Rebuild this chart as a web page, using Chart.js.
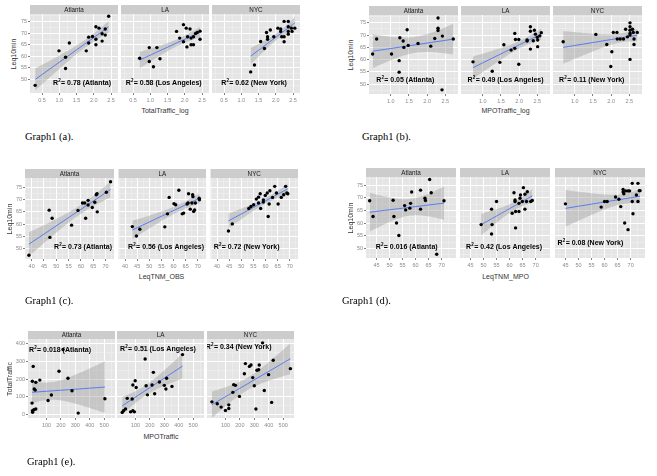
<!DOCTYPE html>
<html>
<head>
<meta charset="utf-8">
<script src="https://cdn.jsdelivr.net/npm/chart.js@4.4.1/dist/chart.umd.min.js"></script>
<style>
body { margin: 0; background: #fff; }
#page { position: relative; width: 657px; height: 476px; overflow: hidden; font-family: "Liberation Sans", Arial, sans-serif; }
#page canvas { position: absolute; }
.cap { position: absolute; font-family: "Liberation Serif", "Times New Roman", serif; font-size: 10.5px; color: #000; white-space: nowrap; }
.xt { position: absolute; font-size: 7px; color: #333; transform: translate(-50%, -50%); white-space: nowrap; }
.yt { position: absolute; font-size: 7px; color: #333; transform: translate(-50%, -50%) rotate(-90deg); white-space: nowrap; }
</style>
</head>
<body>
<div id="page"></div>
<script>
var facets = ['Atlanta', 'LA', 'NYC'];

// Graph1 (a): Leq10min vs TotalTraffic_log
var aAtlX = [0.30, 0.99, 1.29, 1.18, 1.18, 1.78, 1.85, 1.85, 1.96, 2.06, 2.15, 2.06, 2.06, 2.24, 2.24, 2.33, 2.33, 2.43];
var aAtlY = [47.5, 62.4, 65.8, 59.6, 54.8, 62.4, 65.8, 68.3, 68.6, 72.8, 72.2, 67.4, 65.0, 66.6, 69.8, 71.8, 69.2, 77.3];
var aLaX = [0.69, 0.97, 1.19, 0.97, 1.09, 1.28, 1.76, 1.85, 1.96, 1.96, 2.04, 2.06, 2.08, 2.15, 2.18, 2.18, 2.25, 2.25, 2.31, 2.36, 2.44, 2.44];
var aLaY = [59.2, 63.8, 63.8, 57.8, 55.5, 59.0, 70.8, 67.9, 73.7, 66.3, 72.2, 64.1, 68.5, 71.8, 67.9, 65.0, 65.0, 68.5, 69.9, 70.3, 70.9, 67.4];
var aNycX = [1.27, 1.38, 1.56, 1.67, 1.73, 1.76, 1.76, 1.84, 1.94, 2.06, 2.14, 2.14, 2.17, 2.24, 2.24, 2.24, 2.36, 2.36, 2.36, 2.36, 2.45, 2.47, 2.55];
var aNycY = [53.3, 56.3, 66.4, 63.4, 70.3, 68.5, 67.4, 71.4, 68.5, 72.2, 71.8, 70.8, 68.5, 75.1, 68.5, 66.3, 75.1, 72.8, 70.8, 69.6, 72.2, 70.8, 72.2];
var aXTicks = [0.5, 1.0, 1.5, 2.0, 2.5];
var aYTicks = [50, 55, 60, 65, 70, 75];
var aXRange = [0.15, 2.7];
var aYRange = [44.2, 78.3];
var aR2 = ['0.78 (Atlanta)', '0.58 (Los Angeles)', '0.62 (New York)'];

// Graph1 (b): Leq10min vs MPOTraffic_log
var bAtlX = [0.50, 0.61, 1.02, 1.23, 1.23, 1.25, 1.34, 1.36, 1.45, 1.48, 1.75, 2.10, 2.21, 2.30, 2.30, 2.30, 2.42, 2.41, 2.72];
var bAtlY = [62.3, 68.4, 62.3, 59.6, 54.9, 68.9, 67.6, 65.0, 72.2, 65.8, 66.6, 65.5, 68.6, 77.0, 72.8, 71.9, 69.6, 47.7, 68.4];
var bLaX = [0.73, 1.26, 1.47, 1.58, 1.78, 1.88, 1.88, 1.90, 1.99, 1.99, 2.22, 2.22, 2.31, 2.31, 2.31, 2.39, 2.42, 2.45, 2.50, 2.51, 2.51, 2.61, 2.57];
var bLaY = [59.1, 55.3, 58.9, 66.1, 63.9, 64.6, 70.7, 68.2, 68.2, 58.1, 68.0, 67.6, 73.4, 71.6, 64.3, 67.7, 72.0, 70.4, 69.1, 68.0, 65.3, 71.0, 69.7];
var bNycX = [0.68, 1.58, 1.88, 2.02, 1.99, 2.06, 2.16, 2.17, 2.25, 2.34, 2.40, 2.45, 2.52, 2.52, 2.52, 2.52, 2.52, 2.52, 2.59, 2.61, 2.63, 2.63, 2.72];
var bNycY = [67.3, 70.3, 66.2, 63.2, 57.2, 71.1, 71.1, 68.4, 68.4, 68.4, 72.4, 69.3, 75.0, 73.4, 72.0, 70.7, 70.0, 60.1, 72.4, 71.1, 68.4, 66.2, 71.1];
var bXTicks = [1.0, 1.5, 2.0, 2.5];
var bYTicks = [50, 55, 60, 65, 70, 75];
var bXRange = [0.4, 2.85];
var bYRange = [46.0, 78.2];
var bR2 = ['0.05 (Atlanta)', '0.49 (Los Angeles)', '0.11 (New York)'];

// Graph1 (c): Leq10min vs LeqTNM_OBS
var cAtlX = [38.9, 47.1, 48.3, 47.4, 56.2, 58.8, 60.6, 61.5, 61.9, 62.9, 62.9, 64.6, 65.6, 66.2, 66.5, 66.6, 70.3, 72.0];
var cAtlY = [47.3, 65.7, 62.4, 54.6, 59.6, 65.6, 68.6, 68.6, 62.4, 69.7, 67.8, 66.8, 68.9, 72.0, 72.4, 65.0, 73.0, 77.3];
var cLaX = [43.0, 44.7, 46.1, 56.4, 57.5, 58.2, 60.2, 60.9, 62.2, 63.6, 64.2, 65.6, 66.2, 66.0, 66.9, 67.6, 67.9, 68.0, 68.3, 68.7, 69.0, 70.6, 70.7];
var cLaY = [59.0, 55.2, 57.9, 58.9, 64.2, 70.9, 68.3, 67.9, 73.8, 64.2, 64.5, 68.2, 72.4, 68.6, 66.1, 68.6, 72.0, 71.2, 65.2, 65.8, 68.6, 70.6, 69.9];
var cNycX = [44.7, 46.3, 53.1, 54.0, 55.1, 56.2, 57.1, 57.1, 57.8, 58.0, 59.1, 59.1, 59.9, 60.7, 61.1, 61.5, 61.8, 62.9, 63.8, 64.5, 65.2, 66.5, 67.5, 68.3, 68.8, 69.2];
var cNycY = [57.2, 60.1, 66.4, 67.2, 67.9, 70.2, 68.6, 71.0, 72.4, 66.4, 69.9, 69.0, 71.7, 72.7, 63.1, 68.2, 73.6, 70.9, 75.4, 72.7, 68.2, 70.9, 72.0, 75.4, 72.7, 72.4];
var cXTicks = [40, 45, 50, 55, 60, 65, 70];
var cYTicks = [50, 55, 60, 65, 70, 75];
var cXRange = [37.3, 73.4];
var cYRange = [45.8, 78.8];
var cR2 = ['0.73 (Atlanta)', '0.56 (Los Angeles)', '0.72 (New York)'];

// Graph1 (d): Leq10min vs LeqTNM_MPO
var dAtlX = [42.4, 43.7, 51.4, 51.7, 52.7, 53.6, 55.8, 56.2, 57.8, 58.1, 58.5, 61.9, 61.9, 63.6, 63.8, 65.4, 66.0, 68.1, 70.9];
var dAtlY = [68.8, 62.6, 69.0, 62.6, 60.0, 55.1, 66.9, 65.2, 65.9, 67.8, 72.3, 73.0, 65.5, 69.8, 68.9, 77.2, 72.0, 47.7, 68.8];
var dLaX = [49.1, 53.1, 53.3, 53.1, 55.0, 61.0, 61.7, 62.1, 62.1, 62.3, 62.3, 63.6, 63.6, 64.0, 64.2, 64.9, 65.3, 65.9, 65.9, 66.5, 66.8, 68.1, 68.7];
var dLaY = [59.4, 65.5, 59.4, 55.7, 68.5, 63.9, 72.0, 69.1, 68.5, 58.1, 64.6, 67.8, 64.6, 69.8, 71.1, 68.5, 74.0, 71.4, 65.5, 68.5, 72.4, 68.5, 68.9];
var dNycX = [45.0, 58.7, 60.0, 61.0, 64.2, 65.5, 66.2, 67.1, 67.1, 67.4, 68.1, 69.0, 69.6, 67.7, 69.0, 70.6, 70.6, 70.9, 72.2, 72.8, 72.8, 73.3, 73.6];
var dNycY = [67.6, 66.3, 68.5, 68.5, 70.3, 69.4, 66.5, 72.3, 73.3, 71.6, 72.7, 72.7, 72.7, 60.0, 57.4, 75.7, 68.5, 63.7, 71.1, 75.7, 68.5, 72.8, 72.8];
var dXTicks = [45, 50, 55, 60, 65, 70];
var dYTicks = [50, 55, 60, 65, 70, 75];
var dXRange = [41.0, 75.5];
var dYRange = [46.2, 78.2];
var dR2 = ['0.016 (Atlanta)', '0.42 (Los Angeles)', '0.08 (New York)'];

// Graph1 (e): TotalTraffic vs MPOTraffic
var eAtlX = [8, 2, 26, 15, 22, 54, 0, 3, 13, 26, 4, 187, 249, 111, 134, 277, 215, 320, 505];
var eAtlY = [272, 187, 181, 143, 137, 194, 63, 19, 25, 29, 11, 244, 204, 78, 109, 133, 368, 6, 88];
var eLaX = [8, 17, 31, 43, 66, 77, 82, 93, 82, 98, 105, 174, 183, 167, 224, 215, 233, 266, 300, 311, 316, 353, 426];
var eLaY = [10, 19, 29, 90, 13, 86, 19, 13, 166, 190, 152, 162, 110, 314, 238, 166, 116, 183, 164, 143, 204, 158, 339];
var eNycX = [6, 43, 70, 100, 123, 123, 151, 157, 169, 197, 231, 238, 266, 277, 289, 300, 311, 318, 330, 334, 357, 369, 399, 420, 431, 550];
var eNycY = [70, 59, 40, 21, 32, 53, 124, 168, 164, 101, 230, 288, 272, 280, 208, 162, 29, 250, 253, 280, 406, 135, 225, 67, 307, 259];
var eXTicks = [100, 200, 300, 400, 500];
var eYTicks = [0, 100, 200, 300, 400];
var eXRange = [-28, 575];
var eYRange = [-22, 428];
var eR2 = ['0.018 (Atlanta)', '0.51 (Los Angeles)', '0.34 (New York)'];

var XH = 12;

var graphs = [
  { xs: [aAtlX, aLaX, aNycX], ys: [aAtlY, aLaY, aNycY], xTicks: aXTicks, yTicks: aYTicks, xRange: aXRange, yRange: aYRange, r2: aR2, dec: 1,
    lefts: [30, 121, 212], pw: 88, top: 5, strip: 9, ph: 79, yw: 12,
    xTitle: 'TotalTraffic_log', yTitle: 'Leq10min', yTitleX: 13, xTitleY: 110, cap: 'Graph1 (a).', capX: 25, capY: 131,
    r2Pos: [[1.65, 48.3], [1.38, 48.3], [1.36, 48.3]] },
  { xs: [bAtlX, bLaX, bNycX], ys: [bAtlY, bLaY, bNycY], xTicks: bXTicks, yTicks: bYTicks, xRange: bXRange, yRange: bYRange, r2: bR2, dec: 1,
    lefts: [369, 461, 553], pw: 89, top: 6, strip: 9, ph: 79, yw: 12,
    xTitle: 'MPOTraffic_log', yTitle: 'Leq10min', yTitleX: 350, xTitleY: 110, cap: 'Graph1 (b).', capX: 362, capY: 131,
    r2Pos: [[1.39, 51.8], [1.62, 51.8], [1.46, 51.8]] },
  { xs: [cAtlX, cLaX, cNycX], ys: [cAtlY, cLaY, cNycY], xTicks: cXTicks, yTicks: cYTicks, xRange: cXRange, yRange: cYRange, r2: cR2, dec: 0,
    lefts: [25, 117, 209], pw: 89, top: 169, strip: 9, ph: 81, yw: 12,
    xTitle: 'LeqTNM_OBS', yTitle: 'Leq10min', yTitleX: 9, xTitleY: 276, cap: 'Graph1 (c).', capX: 25, capY: 295,
    r2Pos: [[60.7, 50.5], [56.8, 50.5], [52.1, 50.5]] },
  { xs: [dAtlX, dLaX, dNycX], ys: [dAtlY, dLaY, dNycY], xTicks: dXTicks, yTicks: dYTicks, xRange: dXRange, yRange: dYRange, r2: dR2, dec: 0,
    lefts: [366, 460, 555], pw: 90, top: 168, strip: 9, ph: 81, yw: 12,
    xTitle: 'LeqTNM_MPO', yTitle: 'Leq10min', yTitleX: 350, xTitleY: 276, cap: 'Graph1 (d).', capX: 342, capY: 295,
    r2Pos: [[56.5, 50.6], [57.8, 50.6], [54.5, 52.0]] },
  { xs: [eAtlX, eLaX, eNycX], ys: [eAtlY, eLaY, eNycY], xTicks: eXTicks, yTicks: eYTicks, xRange: eXRange, yRange: eYRange, r2: eR2, dec: 0,
    lefts: [28, 117, 207], pw: 87, top: 331, strip: 8, ph: 79, yw: 14,
    xTitle: 'MPOTraffic', yTitle: 'TotalTraffic', yTitleX: 9, xTitleY: 436, cap: 'Graph1 (e).', capX: 27, capY: 456,
    r2Pos: [[192, 364], [254, 368], [190, 383]] }
];

function isMajor(v, major) {
  for (var i = 0; i < major.length; i++) if (Math.abs(major[i] - v) < 1e-9) return true;
  return false;
}

// major breaks plus the minor ones half way between them
function withMinor(major, range) {
  var step = major[1] - major[0], out = [];
  if (major[0] - step / 2 >= range[0]) out.push(major[0] - step / 2);
  major.forEach(function (v) {
    out.push(v);
    if (v + step / 2 <= range[1]) out.push(v + step / 2);
  });
  return out;
}

// lm fit and its 95% band, like stat_smooth(method = "lm")
function fitBand(xs, ys) {
  var n = xs.length, mx = 0, my = 0, i;
  for (i = 0; i < n; i++) { mx += xs[i]; my += ys[i]; }
  mx /= n; my /= n;
  var sxx = 0, sxy = 0;
  for (i = 0; i < n; i++) { sxx += (xs[i] - mx) * (xs[i] - mx); sxy += (xs[i] - mx) * (ys[i] - my); }
  var b = sxy / sxx, a = my - b * mx, sse = 0;
  for (i = 0; i < n; i++) { var r = ys[i] - (a + b * xs[i]); sse += r * r; }
  var s = Math.sqrt(sse / (n - 2)), t = 1.96 + 2.5 / (n - 2);
  var x0 = Math.min.apply(null, xs), x1 = Math.max.apply(null, xs);
  var fit = [], upper = [], lower = [];
  for (var k = 0; k <= 40; k++) {
    var x = x0 + (x1 - x0) * k / 40, yh = a + b * x;
    var se = s * Math.sqrt(1 / n + (x - mx) * (x - mx) / sxx);
    fit.push({ x: x, y: yh });
    upper.push({ x: x, y: yh + t * se });
    lower.push({ x: x, y: yh - t * se });
  }
  return { fit: fit, upper: upper, lower: lower };
}

var panelDeco = {
  id: 'panelDeco',
  beforeDraw: function (chart, args, o) {
    var a = chart.chartArea, c = chart.ctx;
    c.save();
    c.fillStyle = '#e5e5e5';
    c.fillRect(a.left, a.top, a.right - a.left, a.bottom - a.top);
    c.fillStyle = '#cccccc';
    c.fillRect(a.left, a.top - o.strip, a.right - a.left, o.strip);
    c.fillStyle = '#1a1a1a';
    c.font = '6.3px "Liberation Sans"';
    c.textAlign = 'center';
    c.textBaseline = 'middle';
    c.fillText(o.label, (a.left + a.right) / 2, a.top - o.strip / 2 + 0.5);
    c.restore();
  },
  afterDatasetsDraw: function (chart, args, o) {
    var c = chart.ctx;
    var px = chart.scales.x.getPixelForValue(o.pos[0]);
    var py = chart.scales.y.getPixelForValue(o.pos[1]);
    var big = 'bold 7px "Liberation Sans"', small = 'bold 4.5px "Liberation Sans"';
    var rest = '= ' + o.text;
    c.save();
    c.fillStyle = '#000';
    c.textBaseline = 'middle';
    c.textAlign = 'left';
    c.font = big;
    var wR = c.measureText('R').width, wT = c.measureText(rest).width;
    c.font = small;
    var w2 = c.measureText('2').width;
    var x = px - (wR + w2 + wT) / 2;
    c.font = big;
    c.fillText('R', x, py);
    c.font = small;
    c.fillText('2', x + wR + 0.2, py - 2.3);
    c.font = big;
    c.fillText(rest, x + wR + w2 + 0.5, py);
    c.restore();
  }
};

function gridOpts(major, withTicks) {
  return {
    color: function (ctx) { return ctx.tick && isMajor(ctx.tick.value, major) ? '#ffffff' : '#f2f2f2'; },
    lineWidth: function (ctx) { return ctx.tick && isMajor(ctx.tick.value, major) ? 1 : 0.5; },
    tickColor: function (ctx) { return ctx.tick && isMajor(ctx.tick.value, major) ? '#7f7f7f' : 'rgba(0,0,0,0)'; },
    tickLength: 2,
    drawTicks: withTicks
  };
}

var page = document.getElementById('page');

function makePanel(g, f) {
  var first = f === 0;
  var yw = first ? g.yw : 0;
  var w = g.pw + yw, h = g.strip + g.ph + XH;
  var cv = document.createElement('canvas');
  cv.width = w; cv.height = h;
  cv.style.left = (g.lefts[f] - yw) + 'px';
  cv.style.top = g.top + 'px';
  cv.style.width = w + 'px';
  cv.style.height = h + 'px';
  page.appendChild(cv);

  var xs = g.xs[f], ys = g.ys[f];
  var band = fitBand(xs, ys);
  var pts = xs.map(function (x, i) { return { x: x, y: ys[i] }; });
  var xAll = withMinor(g.xTicks, g.xRange), yAll = withMinor(g.yTicks, g.yRange);

  new Chart(cv.getContext('2d'), {
    type: 'scatter',
    data: {
      datasets: [
        { data: pts, pointRadius: 1.7, pointBackgroundColor: '#000', pointBorderWidth: 0, order: 0 },
        { type: 'line', data: band.fit, borderColor: '#3366ff', borderWidth: 0.8, pointRadius: 0, fill: false, order: 1 },
        { type: 'line', data: band.upper, borderColor: 'rgba(0,0,0,0)', borderWidth: 0, pointRadius: 0, fill: false, order: 2 },
        { type: 'line', data: band.lower, borderColor: 'rgba(0,0,0,0)', borderWidth: 0, pointRadius: 0, fill: '-1', backgroundColor: 'rgba(153,153,153,0.4)', order: 3 }
      ]
    },
    options: {
      responsive: false,
      animation: false,
      events: [],
      layout: { padding: { top: g.strip, left: 0, right: 0, bottom: 0 }, autoPadding: false },
      plugins: {
        legend: { display: false },
        tooltip: { enabled: false },
        panelDeco: { strip: g.strip, label: facets[f], text: g.r2[f], pos: g.r2Pos[f] }
      },
      scales: {
        x: {
          type: 'linear', min: g.xRange[0], max: g.xRange[1],
          afterBuildTicks: function (s) { s.ticks = xAll.map(function (v) { return { value: v }; }); },
          afterFit: function (s) { s.height = XH; },
          ticks: {
            autoSkip: false, maxRotation: 0, padding: 2, color: '#8a8a8a',
            font: { size: 5.5, family: 'Liberation Sans' },
            callback: function (v) { return isMajor(v, g.xTicks) ? v.toFixed(g.dec) : ''; }
          },
          grid: gridOpts(g.xTicks, true),
          border: { display: false }
        },
        y: {
          type: 'linear', min: g.yRange[0], max: g.yRange[1],
          afterBuildTicks: function (s) { s.ticks = yAll.map(function (v) { return { value: v }; }); },
          afterFit: function (s) { s.width = yw; },
          ticks: {
            display: first, autoSkip: false, padding: 1, color: '#8a8a8a',
            font: { size: 5.5, family: 'Liberation Sans' },
            callback: function (v) { return isMajor(v, g.yTicks) ? String(v) : ''; }
          },
          grid: gridOpts(g.yTicks, first),
          border: { display: false }
        }
      }
    },
    plugins: [panelDeco]
  });
}

function addText(cls, txt, left, top) {
  var d = document.createElement('div');
  d.className = cls;
  d.textContent = txt;
  d.style.left = left + 'px';
  d.style.top = top + 'px';
  page.appendChild(d);
}

graphs.forEach(function (g) {
  for (var f = 0; f < 3; f++) makePanel(g, f);
  var mid = (g.lefts[0] + g.lefts[2] + g.pw) / 2;
  addText('xt', g.xTitle, mid, g.xTitleY);
  addText('yt', g.yTitle, g.yTitleX, g.top + g.strip + g.ph / 2);
  addText('cap', g.cap, g.capX, g.capY);
});
</script>
</body>
</html>
